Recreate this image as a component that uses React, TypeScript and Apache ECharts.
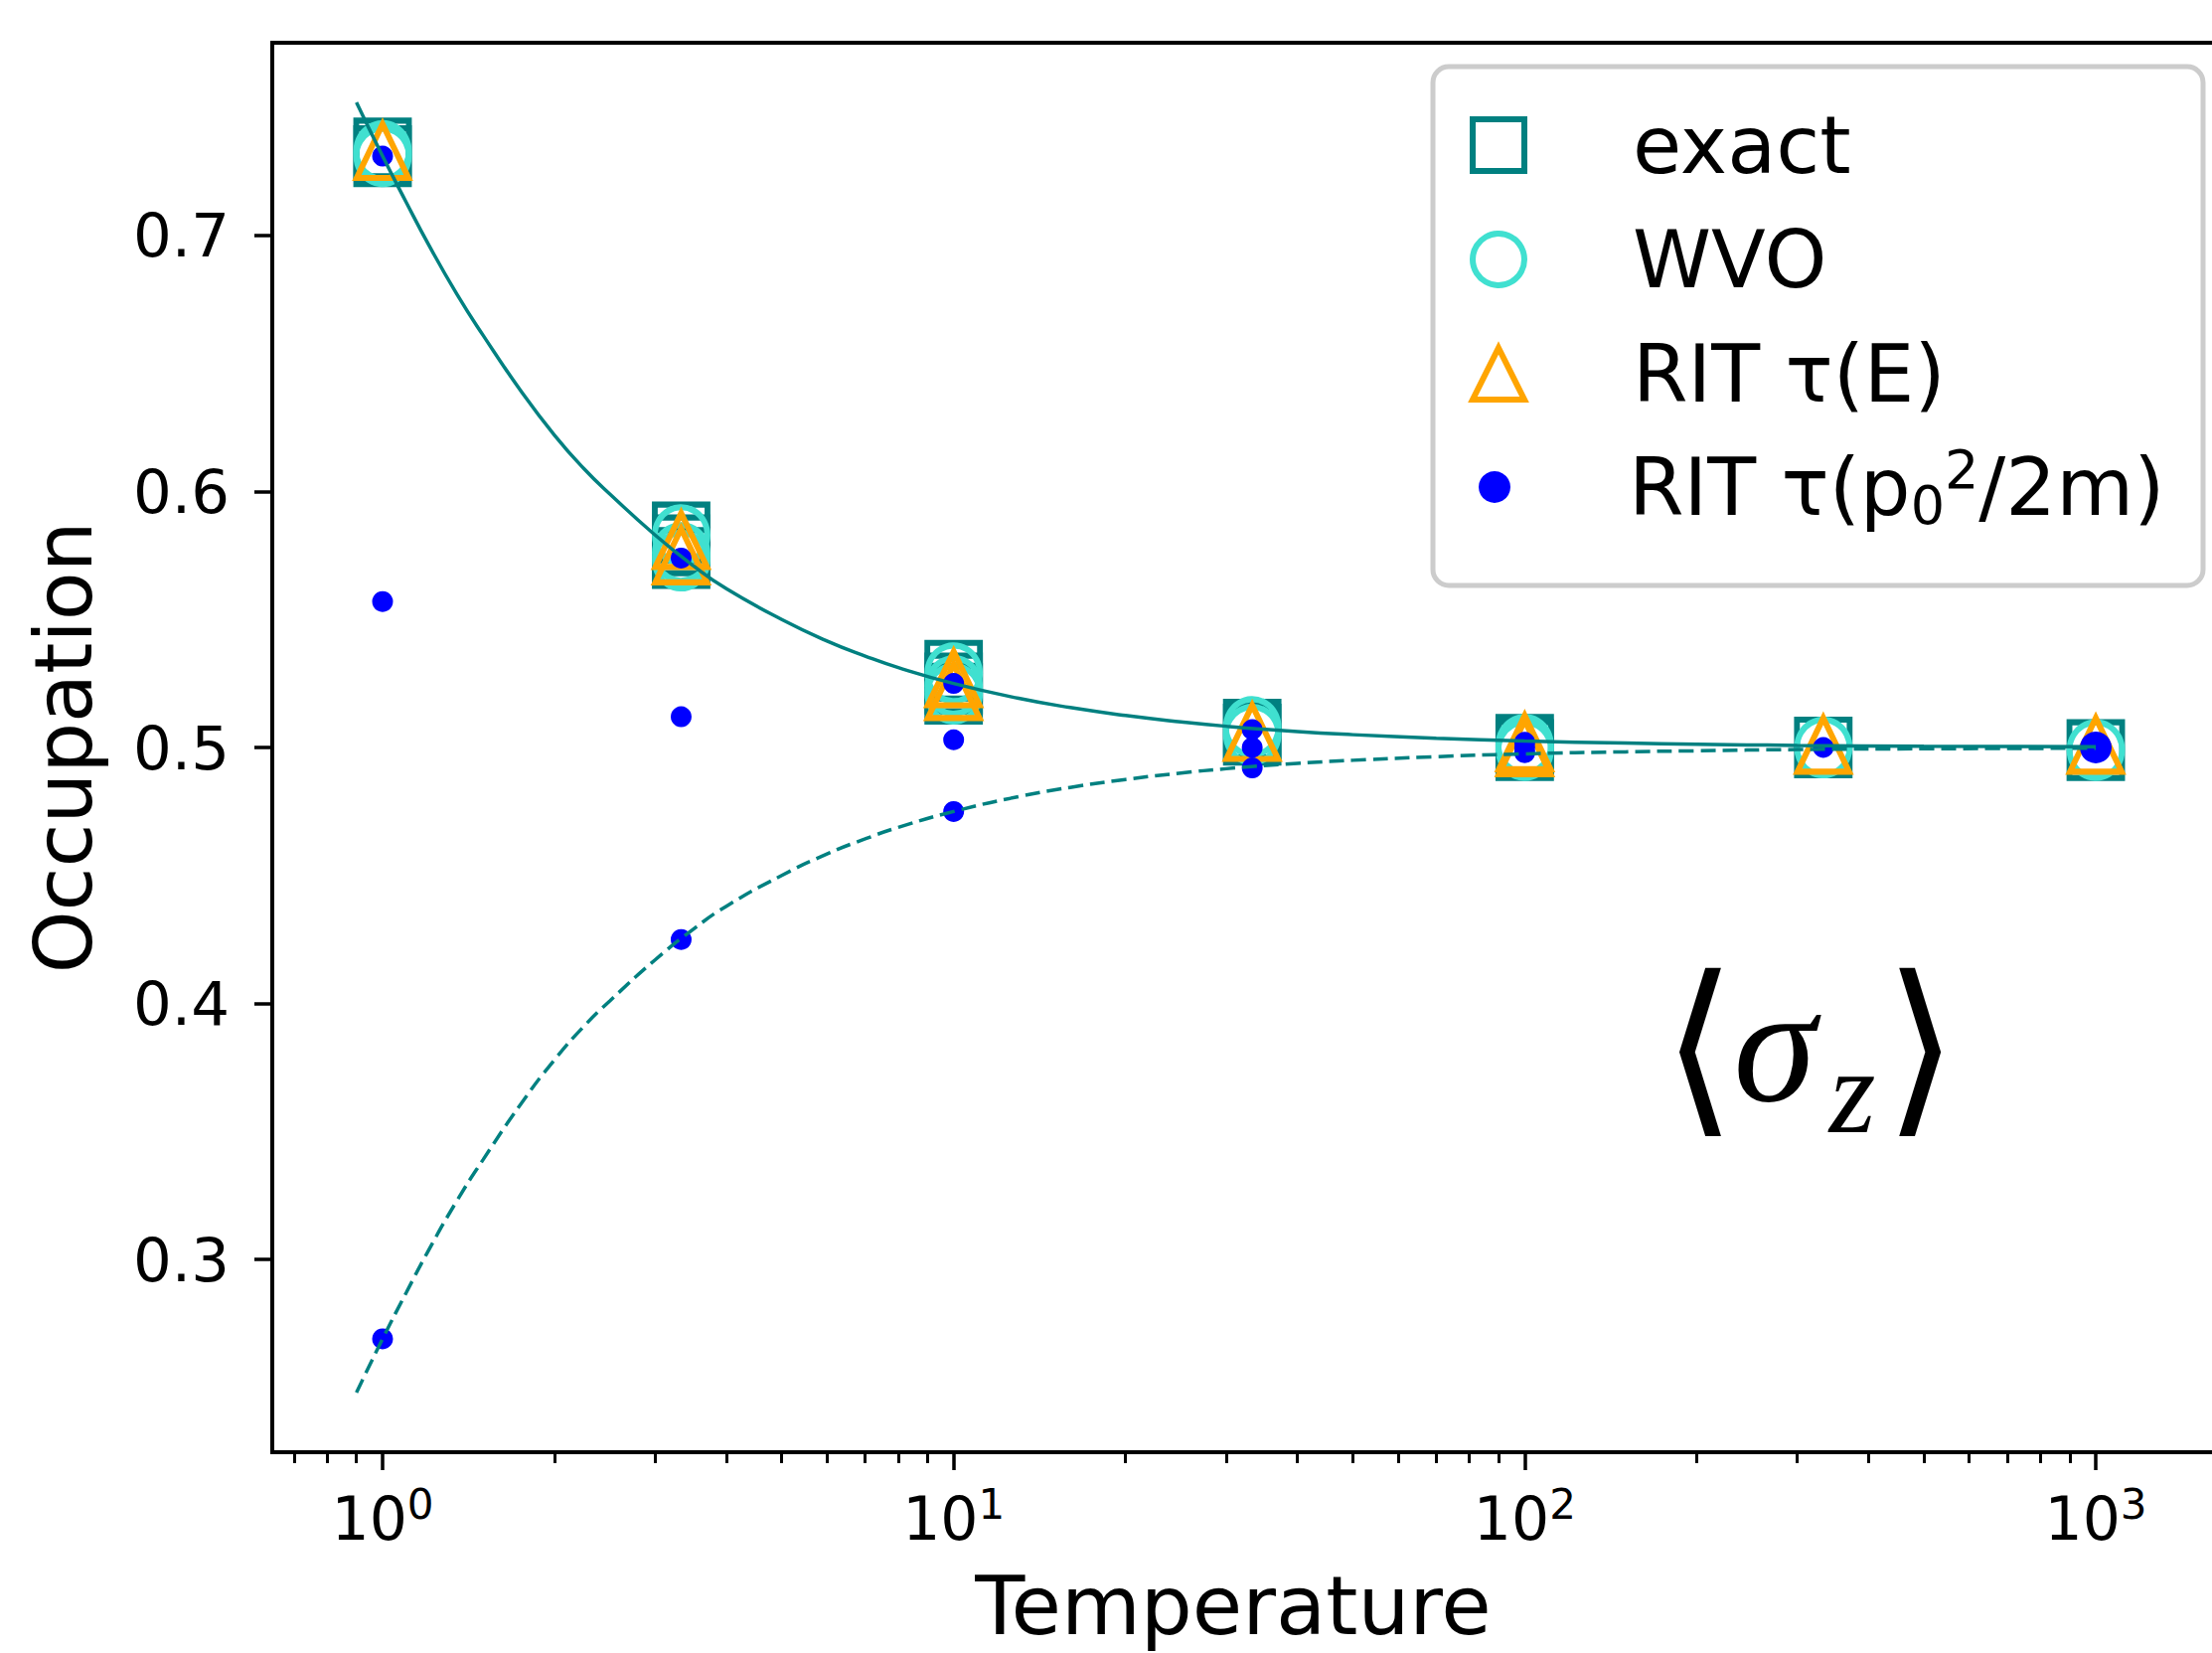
import React, { useEffect, useRef } from "react";
import * as echarts from "echarts";

// ---------- data ----------
// Temperature values of the simulated points
const exactT = [1, 1, 3.333, 3.333, 3.333, 10, 10, 10, 33.33, 33.33, 100, 100, 333.3, 1000];
const exactY = [0.734, 0.731, 0.584, 0.579, 0.574, 0.530, 0.525, 0.521, 0.507, 0.505, 0.501, 0.499, 0.500, 0.499];

const wvoT = [1, 1, 3.333, 3.333, 3.333, 10, 10, 10, 33.33, 33.33, 100, 100, 333.3, 1000];
const wvoY = [0.733, 0.731, 0.583, 0.576, 0.573, 0.529, 0.524, 0.521, 0.508, 0.505, 0.501, 0.499, 0.500, 0.499];

const ritET = [1, 3.333, 3.333, 10, 10, 33.33, 100, 100, 333.3, 1000];
const ritEY = [0.733, 0.581, 0.575, 0.527, 0.522, 0.506, 0.502, 0.500, 0.501, 0.501];

const ritPT = [1, 1, 1, 3.333, 3.333, 3.333, 10, 10, 10, 33.33, 33.33, 33.33, 100, 100, 100, 333.3, 1000];
const ritPY = [0.731, 0.557, 0.269, 0.574, 0.512, 0.425, 0.525, 0.503, 0.475, 0.507, 0.500, 0.492, 0.502, 0.500, 0.498, 0.500, 0.500];

// analytic curves
const curveT = [0.9, 1, 1.1, 1.2, 1.35, 1.5, 1.75, 2, 2.25, 2.5, 3, 3.5, 4, 5, 6, 7, 8, 10, 13, 16, 20, 25, 30, 40, 50, 70, 100, 150, 200, 300, 500, 1000];
const upperCurve = [0.752, 0.731, 0.713, 0.697, 0.677, 0.661, 0.639, 0.622, 0.609, 0.599, 0.583, 0.571, 0.562, 0.550, 0.5416, 0.5357, 0.5312, 0.525, 0.5192, 0.5156, 0.5125, 0.510, 0.5083, 0.5062, 0.505, 0.5036, 0.5025, 0.5017, 0.5013, 0.5008, 0.5005, 0.5003];
const lowerCurve = [0.248, 0.269, 0.287, 0.303, 0.323, 0.339, 0.361, 0.378, 0.391, 0.401, 0.417, 0.429, 0.438, 0.450, 0.4584, 0.4643, 0.4688, 0.475, 0.4808, 0.4844, 0.4875, 0.490, 0.4917, 0.4938, 0.495, 0.4964, 0.4975, 0.4983, 0.4987, 0.4992, 0.4995, 0.4997];

// axes
const xLimits = [0.641, 1663];
const yLimits = [0.2247, 0.7753];
const xTickExponents = [0, 1, 2, 3];
const xMinorT = [0.7, 0.8, 0.9, 2, 3, 4, 5, 6, 7, 8, 9, 20, 30, 40, 50, 60, 70, 80, 90, 200, 300, 400, 500, 600, 700, 800, 900];
const yTicks = [0.3, 0.4, 0.5, 0.6, 0.7];

const seriesNames = ["exact", "WVO", "RIT τ(E)", "RIT τ(p0²/2m)"];
const xTitle = "Temperature";
const yTitle = "Occupation";

// ---------- styling ----------
const FONT = "DejaVu Sans";
const TEAL = "#008080";
const TURQ = "#40E0D0";
const ORANGE = "#FFA500";
const BLUE = "#0000FF";

const lg = (v: number) => Math.log10(v);
const pairs = (ts: number[], ys: number[]) => ts.map((t, i) => [lg(t), ys[i]]);

const hollow = (color: string) => ({ color: "rgba(0,0,0,0)", borderColor: color, borderWidth: 6, opacity: 1 });

function buildOption() {
  const xMin = lg(xLimits[0]);
  const xMax = lg(xLimits[1]);
  return {
    animation: false,
    backgroundColor: "#ffffff",
    grid: {
      left: 274,
      top: 43,
      width: 1962,
      height: 1418,
      show: true,
      borderColor: "#000",
      borderWidth: 4,
      backgroundColor: "rgba(0,0,0,0)",
      containLabel: false,
      outerBoundsMode: "none",
    },
    xAxis: [
      {
        type: "value",
        min: xMin,
        max: xMax,
        position: "bottom",
        axisLine: { show: true, onZero: false, lineStyle: { color: "#000", width: 4 } },
        axisTick: { show: true, length: 18, customValues: xTickExponents, lineStyle: { color: "#000", width: 3.5 } },
        axisLabel: {
          show: true,
          customValues: xTickExponents,
          margin: 31,
          formatter: (v: number) => `{b|10}{s|${Math.round(v)}}`,
          rich: {
            b: { fontSize: 60, lineHeight: 72, fontFamily: FONT, color: "#000" },
            s: { fontSize: 42, lineHeight: 35, verticalAlign: "top", fontFamily: FONT, color: "#000" },
          },
        },
        splitLine: { show: false },
        name: xTitle,
        nameLocation: "middle",
        nameGap: 106,
        nameTextStyle: { fontSize: 82, fontFamily: FONT, color: "#000", lineHeight: 96, padding: [0, 28, 0, 0] },
      },
      {
        type: "value",
        min: xMin,
        max: xMax,
        position: "bottom",
        axisLine: { show: false, onZero: false },
        axisTick: { show: true, length: 11, customValues: xMinorT.map(lg), lineStyle: { color: "#000", width: 3 } },
        axisLabel: { show: false },
        splitLine: { show: false },
      },
    ],
    yAxis: {
      type: "value",
      min: yLimits[0],
      max: yLimits[1],
      axisLine: { show: true, onZero: false, lineStyle: { color: "#000", width: 4 } },
      axisTick: { show: true, length: 18, customValues: yTicks, lineStyle: { color: "#000", width: 3.5 } },
      axisLabel: {
        show: true,
        customValues: yTicks,
        margin: 43,
        fontSize: 61,
        fontFamily: FONT,
        color: "#000",
        formatter: (v: number) => v.toFixed(1),
      },
      splitLine: { show: false },
      name: yTitle,
      nameLocation: "middle",
      nameGap: 162,
      nameTextStyle: { fontSize: 80, fontFamily: FONT, color: "#000", lineHeight: 96 },
    },
    legend: [
      {
        orient: "vertical",
        left: 1479,
        top: 101,
        padding: 0,
        itemGap: 25,
        itemWidth: 52,
        itemHeight: 52,
        selectedMode: false,
        data: [
          { name: seriesNames[0], icon: "rect", itemStyle: hollow(TEAL) },
          { name: seriesNames[1], icon: "circle", itemStyle: hollow(TURQ) },
          { name: seriesNames[2], icon: "triangle", itemStyle: hollow(ORANGE) },
        ],
        textStyle: { fontSize: 80, fontFamily: FONT, color: "#000", lineHeight: 90, padding: [0, 0, 0, 104] },
        z: 5,
      },
      {
        orient: "vertical",
        left: 1488,
        top: 445,
        padding: 0,
        itemWidth: 32,
        itemHeight: 32,
        selectedMode: false,
        data: [{ name: seriesNames[3], icon: "circle", itemStyle: { color: BLUE, borderWidth: 0, opacity: 1 } }],
        formatter: () => "{a|RIT τ(p}{sub|0}{sup|2}{a|/2m)}",
        textStyle: {
          fontSize: 80,
          fontFamily: FONT,
          color: "#000",
          lineHeight: 90,
          padding: [0, 0, 0, 114],
          rich: {
            a: { fontSize: 80, lineHeight: 90, fontFamily: FONT, color: "#000" },
            sub: { fontSize: 54, lineHeight: 38, verticalAlign: "bottom", fontFamily: FONT, color: "#000" },
            sup: { fontSize: 54, lineHeight: 38, verticalAlign: "top", fontFamily: FONT, color: "#000" },
          },
        },
        z: 5,
      },
    ],
    graphic: [
      {
        type: "rect",
        z: 3,
        shape: { x: 1442, y: 67, width: 775, height: 522, r: 16 },
        style: { fill: "rgba(255,255,255,0.8)", stroke: "#cccccc", lineWidth: 5 },
      },
      {
        type: "text",
        z: 3,
        x: 1710,
        y: 1052,
        style: { text: "⟨", fontSize: 190, fontFamily: '"DejaVu Serif", "DejaVu Sans"', fill: "#000", align: "center", verticalAlign: "middle" },
      },
      {
        type: "text",
        z: 3,
        x: 1786,
        y: 1050,
        style: { text: "σ", fontSize: 168, fontStyle: "italic", fontFamily: '"Liberation Serif"', fill: "#000", align: "center", verticalAlign: "middle" },
      },
      {
        type: "text",
        z: 3,
        x: 1864,
        y: 1098,
        style: { text: "z", fontSize: 120, fontStyle: "italic", fontFamily: '"Liberation Serif"', fill: "#000", align: "center", verticalAlign: "middle" },
      },
      {
        type: "text",
        z: 3,
        x: 1933,
        y: 1052,
        style: { text: "⟩", fontSize: 190, fontFamily: '"DejaVu Serif", "DejaVu Sans"', fill: "#000", align: "center", verticalAlign: "middle" },
      },
    ],
    series: [
      {
        type: "line",
        name: "upper",
        xAxisIndex: 0,
        data: pairs(curveT, upperCurve),
        smooth: 0.5,
        showSymbol: false,
        symbol: "none",
        lineStyle: { color: TEAL, width: 3.5 },
        silent: true,
      },
      {
        type: "line",
        name: "lower",
        xAxisIndex: 0,
        data: pairs(curveT, lowerCurve),
        smooth: 0.5,
        showSymbol: false,
        symbol: "none",
        lineStyle: { color: TEAL, width: 3.5, type: [15, 7] },
        silent: true,
      },
      {
        type: "scatter",
        name: seriesNames[0],
        xAxisIndex: 0,
        data: pairs(exactT, exactY),
        symbol: "rect",
        symbolSize: [53, 56],
        itemStyle: hollow(TEAL),
      },
      {
        type: "scatter",
        name: seriesNames[1],
        xAxisIndex: 0,
        data: pairs(wvoT, wvoY),
        symbol: "circle",
        symbolSize: [53, 56],
        itemStyle: hollow(TURQ),
      },
      {
        type: "scatter",
        name: seriesNames[2],
        xAxisIndex: 0,
        data: pairs(ritET, ritEY),
        symbol: "triangle",
        symbolSize: [52, 54],
        itemStyle: hollow(ORANGE),
      },
      {
        type: "scatter",
        name: seriesNames[3],
        xAxisIndex: 0,
        data: pairs(ritPT, ritPY),
        symbol: "circle",
        symbolSize: (v: number[]) => (v[0] >= 2.99 ? 32 : 21),
        itemStyle: { color: BLUE, opacity: 1 },
      },
    ],
  };
}

export default function App() {
  const ref = useRef<HTMLDivElement>(null);
  useEffect(() => {
    if (!ref.current) return;
    const chart = echarts.init(ref.current, null, { renderer: "svg" });
    chart.setOption(buildOption() as any);
    return () => chart.dispose();
  }, []);
  return (
    <div
      ref={ref}
      style={{ position: "absolute", left: 0, top: 0, width: 2226, height: 1663, background: "#fff" }}
    />
  );
}
